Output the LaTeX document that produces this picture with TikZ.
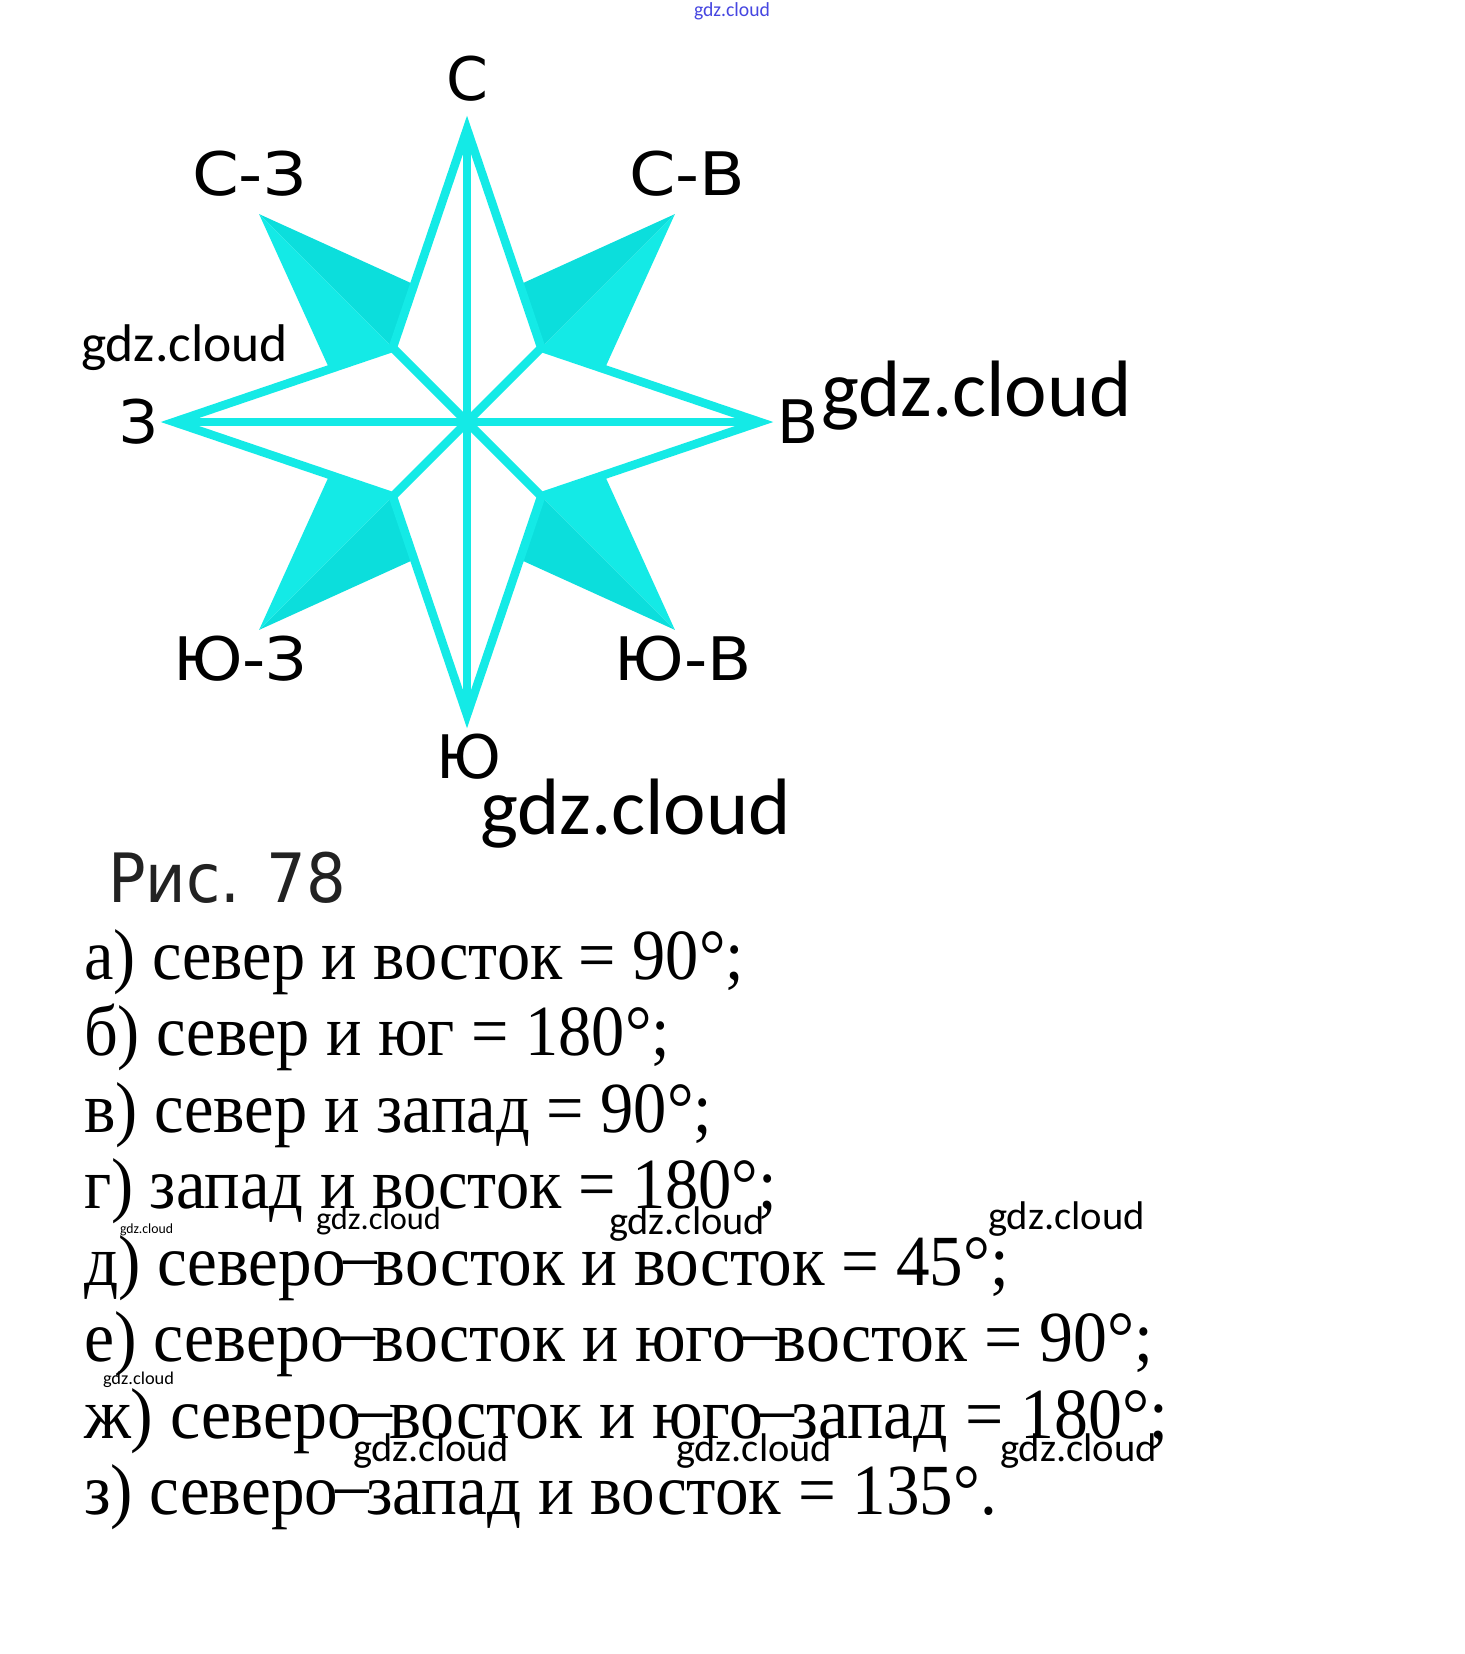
\documentclass[tikz,border=0pt]{standalone}
\usepackage{fontspec}
\usepackage{graphicx}
\setmainfont{Liberation Serif}
\newfontfamily\wmfont{Carlito}
\newfontfamily\lblfont{DejaVu Sans}
\usetikzlibrary{calc}
\definecolor{starcyan}{RGB}{20,234,230}
\definecolor{starcyandk}{RGB}{12,222,220}
\definecolor{wmblue}{RGB}{70,70,225}
\definecolor{capgrey}{RGB}{34,34,34}
\newcommand{\fitw}[2]{\resizebox{#1pt}{\height}{#2}}
\newcommand{\fsz}[1]{\fontsize{#1}{#1}\selectfont}
\newcommand{\dsh}{\kern-0.04em\raisebox{0.08em}{–}\kern-0.04em}
\tikzset{
  txt/.style={inner sep=0pt, outer sep=0pt},
  lbl/.style={txt, font=\lblfont\fsz{60}},
  ans/.style={txt, anchor=base west, font=\fsz{72}},
  wm/.style={txt, anchor=west, font=\wmfont},
  starline/.style={draw=starcyan, line width=8.5pt, line join=miter}
}
\begin{document}
\begin{tikzpicture}[x=1pt,y=-1pt]
\path[use as bounding box, fill=white] (0,0) rectangle (1464,1654);

% ---------- compass star ----------
\begin{scope}[shift={(467,422)}, yscale=-1]
  \coordinate (O) at (0,0);
  \coordinate (N) at (90:293);
  \coordinate (E) at (0:293);
  \coordinate (S) at (270:293);
  \coordinate (W) at (180:293);
  \coordinate (iNE) at (45:105);
  \coordinate (iNW) at (135:105);
  \coordinate (iSW) at (225:105);
  \coordinate (iSE) at (315:105);
  \coordinate (tNE) at (45:294);
  \coordinate (tNW) at (135:294);
  \coordinate (tSW) at (225:294);
  \coordinate (tSE) at (315:294);
  % bases of the diagonal points, on the edges of the main star
  \coordinate (aNE) at ($(N)!0.711!(iNE)$);
  \coordinate (bNE) at ($(E)!0.711!(iNE)$);
  \coordinate (aNW) at ($(N)!0.711!(iNW)$);
  \coordinate (bNW) at ($(W)!0.711!(iNW)$);
  \coordinate (aSW) at ($(S)!0.711!(iSW)$);
  \coordinate (bSW) at ($(W)!0.711!(iSW)$);
  \coordinate (aSE) at ($(S)!0.711!(iSE)$);
  \coordinate (bSE) at ($(E)!0.711!(iSE)$);
  % diagonal points, two shades each
  \foreach \d in {NE,NW,SW,SE}{
    \fill[starcyandk] (t\d) -- (a\d) -- (i\d) -- cycle;
    \fill[starcyan] (t\d) -- (i\d) -- (b\d) -- cycle;
  }
  % main four-pointed star
  \path[starline, fill=white] (N) -- (iNE) -- (E) -- (iSE) -- (S) -- (iSW) -- (W) -- (iNW) -- cycle;
  \draw[starline] (N) -- (S);
  \draw[starline] (W) -- (E);
  \draw[starline] (iNE) -- (iSW);
  \draw[starline] (iNW) -- (iSE);
\end{scope}

% ---------- direction labels ----------
\node[lbl] (lN)  at (467,79)  {С};
\node[lbl] (lNW) at (249,174) {\fitw{114}{С-З}};
\node[lbl] (lNE) at (687,174) {\fitw{116}{С-В}};
\node[lbl] (lW)  at (139,422) {З};
\node[lbl] (lE)  at (798,422) {В};
\node[lbl] (lSW) at (240,659) {\fitw{134}{Ю-З}};
\node[lbl] (lSE) at (683,659) {\fitw{137}{Ю-В}};
\node[lbl] (lS)  at (469,757) {Ю};

\node[txt, anchor=west, font=\lblfont\fsz{68}, text=capgrey] (cap) at (108,878) {\fitw{238}{Рис. 78}};

% ---------- answers ----------
\node[ans] (a1) at (84,979)  {\fitw{660}{а) север и восток = 90°;}};
\node[ans] (a2) at (84,1055) {\fitw{586}{б) север и юг = 180°;}};
\node[ans] (a3) at (84,1132) {\fitw{628}{в) север и запад = 90°;}};
\node[ans] (a4) at (84,1208) {\fitw{693}{г) запад и восток = 180°;}};
\node[ans] (a5) at (84,1285) {\fitw{925}{д) северо\dsh восток и восток = 45°;}};
\node[ans] (a6) at (84,1361) {\fitw{1069}{е) северо\dsh восток и юго\dsh восток = 90°;}};
\node[ans] (a7) at (84,1438) {\fitw{1084}{ж) северо\dsh восток и юго\dsh запад = 180°;}};
\node[ans] (a8) at (84,1514) {\fitw{913}{з) северо\dsh запад и восток = 135°.}};

% ---------- watermarks ----------
\node[wm, font=\wmfont\fsz{20}, text=wmblue] (w0) at (694,11) {\fitw{76}{gdz.cloud}};
\node[wm, font=\wmfont\fsz{53}] (w1) at (81,348)  {\fitw{207}{gdz.cloud}};
\node[wm, font=\wmfont\fsz{80}] (w2) at (821,396) {\fitw{311}{gdz.cloud}};
\node[wm, font=\wmfont\fsz{80}] (w3) at (480,814) {\fitw{311}{gdz.cloud}};
\node[wm, font=\wmfont\fsz{14}] (w4) at (120,1230) {\fitw{53}{gdz.cloud}};
\node[wm, font=\wmfont\fsz{32}] (w5) at (316,1221) {\fitw{125}{gdz.cloud}};
\node[wm, font=\wmfont\fsz{40}] (w6) at (609,1224) {\fitw{156}{gdz.cloud}};
\node[wm, font=\wmfont\fsz{40}] (w7) at (988,1219) {\fitw{157}{gdz.cloud}};
\node[wm, font=\wmfont\fsz{18}] (w8) at (103,1380) {\fitw{71}{gdz.cloud}};
\node[wm, font=\wmfont\fsz{40}] (w9) at (353,1451) {\fitw{156}{gdz.cloud}};
\node[wm, font=\wmfont\fsz{40}] (w10) at (676,1451) {\fitw{156}{gdz.cloud}};
\node[wm, font=\wmfont\fsz{40}] (w11) at (1000,1451) {\fitw{157}{gdz.cloud}};
\end{tikzpicture}
\end{document}
